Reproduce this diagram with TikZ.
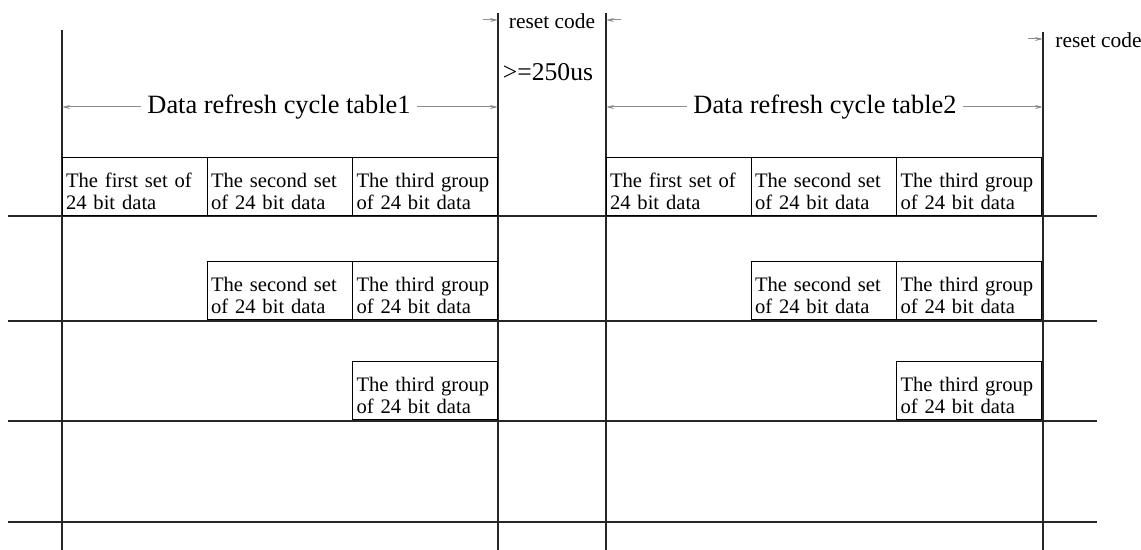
\documentclass[tikz,border=0pt]{standalone}
\usepackage{fontspec}
\setmainfont{Liberation Serif}
\usetikzlibrary{positioning,arrows.meta}

\newcommand{\grpfirst}{\rule{0pt}{11.5pt}The first set of\\24 bit data}
\newcommand{\grpsecond}{\rule{0pt}{11.5pt}The second set\\of 24 bit data}
\newcommand{\grpthird}{\rule{0pt}{11.5pt}The third group\\of 24 bit data}

\begin{document}
\begin{tikzpicture}[x=0.5pt,y=-0.5pt,
    grpbox/.style={draw,line width=0.5pt,anchor=north west,outer sep=0pt,inner xsep=2pt,inner ysep=0pt,
      minimum width=72.5pt,minimum height=29pt,text width=68.5pt,align=left,font=\fontsize{10.3}{11}\selectfont},
    gridline/.style={line width=0.6pt,black!85},
    dimline/.style={draw=black!45,line width=0.5pt,-{Stealth[length=4pt,width=2pt]}},
    cyclab/.style={font=\fontsize{13.2}{16}\selectfont,inner xsep=3pt,inner ysep=1pt},
    rstlab/.style={font=\fontsize{10.7}{12}\selectfont,inner sep=1pt}]
    \useasboundingbox (0,0) rectangle (1141,550);

    % vertical border lines
    \coordinate (v1t) at (62,30);    \coordinate (v1b) at (62,550);
    \coordinate (v2t) at (498,13);   \coordinate (v2b) at (498,550);
    \coordinate (v3t) at (606,13);   \coordinate (v3b) at (606,550);
    \coordinate (v4t) at (1043,32);  \coordinate (v4b) at (1043,550);
    \foreach \v in {v1,v2,v3,v4}
      \draw[gridline] (\v t) -- (\v b);

    % horizontal lines
    \foreach \y [count=\i] in {216,321,421,522} {
      \coordinate (h\i l) at (8,\y);
      \coordinate (h\i r) at (1097,\y);
      \draw[gridline] (h\i l) -- (h\i r);
    }

    % data groups of both tables
    \foreach \x/\t in {62/1,606/2} {
      \node[grpbox] (b\t-1-1) at (\x,158) {\grpfirst};
      \node[grpbox] (b\t-1-2) at (\x+145,158) {\grpsecond};
      \node[grpbox] (b\t-1-3) at (\x+290.5,158) {\grpthird};
      \node[grpbox] (b\t-2-2) at (\x+145,262) {\grpsecond};
      \node[grpbox] (b\t-2-3) at (\x+290.5,262) {\grpthird};
      \node[grpbox] (b\t-3-3) at (\x+290.5,362) {\grpthird};
    }

    % refresh cycle dimensions
    \node[cyclab] (cyc1) at (279,107) {Data refresh cycle table1};
    \node[cyclab] (cyc2) at (825,107) {Data refresh cycle table2};
    \draw[dimline] (cyc1.west) -- (cyc1.west -| v1t);
    \draw[dimline] (cyc1.east) -- (cyc1.east -| v2t);
    \draw[dimline] (cyc2.west) -- (cyc2.west -| v3t);
    \draw[dimline] (cyc2.east) -- (cyc2.east -| v4t);

    % reset codes
    \node[rstlab] (rst1) at (552,21) {reset code};
    \node[font=\fontsize{12.8}{14}\selectfont,inner sep=1pt] (wait) at (548,72) {>=250us};
    \coordinate (r1a) at (483,20);
    \coordinate (r1b) at (621,20);
    \draw[dimline] (r1a) -- (r1a -| v2t);
    \draw[dimline] (r1b) -- (r1b -| v3t);

    \node[rstlab,anchor=west] (rst2) at (1053,40) {reset code};
    \coordinate (r2a) at (1028,39);
    \draw[dimline] (r2a) -- (r2a -| v4t);
\end{tikzpicture}
\end{document}
